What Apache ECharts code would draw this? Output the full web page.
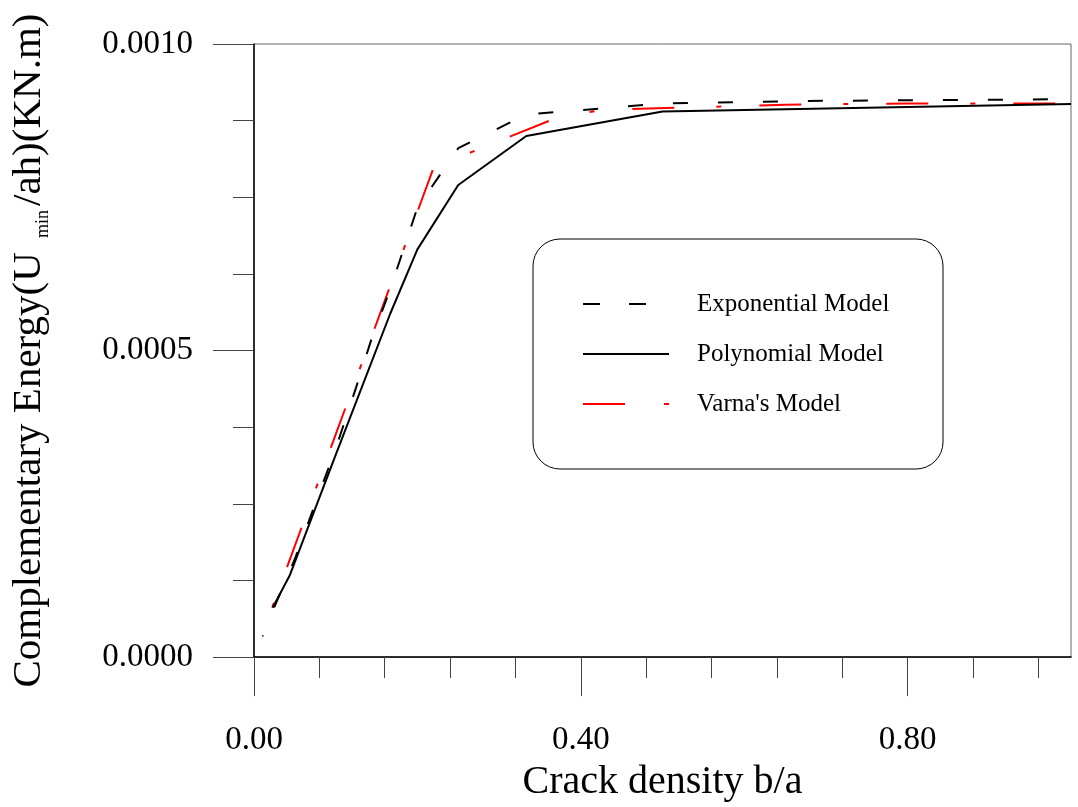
<!DOCTYPE html>
<html>
<head>
<meta charset="utf-8">
<script src="https://cdn.jsdelivr.net/npm/echarts@6/dist/echarts.min.js"></script>
<style>
  html, body { margin: 0; padding: 0; background: #fff; }
  #chart { width: 1078px; height: 807px; }
</style>
</head>
<body>
<div id="chart"></div>
<script>
// values
const expX = [0.0106, 0.025, 0.05, 0.1, 0.125, 0.1429, 0.1667, 0.2, 0.25, 0.3333, 0.5, 0.6667, 1.0];
const expY = [0.000034, 0.000082, 0.00016, 0.00034, 0.00044, 0.000515, 0.0006, 0.000733, 0.00083, 0.000885, 0.000903, 0.000907, 0.00091];

const polyX = [0.023, 0.044, 0.1, 0.1667, 0.2, 0.25, 0.3333, 0.5, 1.0];
const polyY = [0.000081, 0.000134, 0.00033, 0.00056, 0.000665, 0.00077, 0.00085, 0.00089, 0.000902];

const varX = [0.0223, 0.22, 0.375, 0.43, 0.55, 0.65, 0.8, 1.0];
const varY = [0.0000808, 0.000799, 0.000882, 0.000893, 0.000897, 0.000901, 0.000903, 0.000903];

const seriesNames = ["Exponential Model", "Polynomial Model", "Varna's Model"];

const xMajorTicks = [0, 0.4, 0.8];
const xMinorTicks = [0.08, 0.16, 0.24, 0.32, 0.48, 0.56, 0.64, 0.72, 0.88, 0.96];

const zip = (xs, ys) => xs.map((x, i) => [x, ys[i]]);

const FONT = '"Liberation Serif", "Times New Roman", serif';

// line looks, shared by the plot and the legend box
const styles = [
  { color: "#000", width: 2, type: [15, 30], dashOffset: 14 },
  { color: "#000", width: 2, type: "solid" },
  { color: "#ff0000", width: 2, type: [5, 38, 42, 42] }
];
const legendDash = [[17, 29], null, [42, 39, 5, 40]];

const chart = echarts.init(document.getElementById("chart"), null, { renderer: "canvas" });

const legendItems = [];
seriesNames.forEach((name, i) => {
  const y = 304 + i * 50;
  legendItems.push({
    type: "line",
    shape: { x1: 583, y1: y, x2: 669, y2: y },
    style: { stroke: styles[i].color, lineWidth: 2, lineDash: legendDash[i] }
  });
  legendItems.push({
    type: "text",
    x: 697,
    y: y,
    style: { text: name, font: "25px " + FONT, fill: "#000", verticalAlign: "middle" }
  });
});

chart.setOption({
  backgroundColor: "#fff",
  animation: false,
  textStyle: { fontFamily: FONT, color: "#000" },
  grid: {
    left: 254,
    right: 7,
    top: 44,
    bottom: 148,
    show: true,
    borderColor: "#666",
    borderWidth: 1
  },
  xAxis: [
    {
      type: "value",
      min: 0,
      max: 1.0,
      interval: 0.4,
      name: "Crack density b/a",
      nameLocation: "middle",
      nameGap: 88,
      nameTextStyle: { fontSize: 40, fontFamily: FONT, color: "#000" },
      axisLine: { show: true, onZero: false, lineStyle: { color: "#000", width: 1.5 } },
      axisTick: { show: true, customValues: xMajorTicks, length: 39, lineStyle: { color: "#444", width: 1 } },
      axisLabel: {
        customValues: xMajorTicks,
        margin: 67,
        fontSize: 33,
        color: "#000",
        fontFamily: FONT,
        formatter: (v) => v.toFixed(2)
      },
      splitLine: { show: false }
    },
    {
      type: "value",
      min: 0,
      max: 1.0,
      position: "bottom",
      axisLine: { show: false },
      axisTick: { show: true, customValues: xMinorTicks, length: 21, lineStyle: { color: "#444", width: 1 } },
      axisLabel: { show: false },
      splitLine: { show: false }
    }
  ],
  yAxis: {
    type: "value",
    min: 0,
    max: 0.001,
    interval: 0.0005,
    name: "{a|Complementary Energy(U }{sub|min}{a|/ah)(KN.m)}",
    nameLocation: "middle",
    nameGap: 202,
    nameTextStyle: {
      fontFamily: FONT,
      rich: {
        a: { fontSize: 41, lineHeight: 46, fontFamily: FONT, color: "#000", verticalAlign: "middle" },
        sub: { fontSize: 18, lineHeight: 18, fontFamily: FONT, color: "#000", verticalAlign: "bottom", padding: [0, 4, 0, 4] }
      }
    },
    axisLine: { show: true, onZero: false, lineStyle: { color: "#000", width: 1.5 } },
    axisTick: { show: true, length: 41, lineStyle: { color: "#444", width: 1 } },
    minorTick: { show: true, splitNumber: 4, length: 21, lineStyle: { color: "#444", width: 1 } },
    axisLabel: {
      margin: 61,
      fontSize: 33,
      color: "#000",
      fontFamily: FONT,
      formatter: (v) => v.toFixed(4)
    },
    splitLine: { show: false },
    minorSplitLine: { show: false }
  },
  series: [
    { name: seriesNames[0], data: zip(expX, expY) },
    { name: seriesNames[1], data: zip(polyX, polyY) },
    { name: seriesNames[2], data: zip(varX, varY) }
  ].map((s, i) => ({
    name: s.name,
    type: "line",
    data: s.data,
    symbol: "none",
    showSymbol: false,
    smooth: false,
    lineStyle: styles[i],
    itemStyle: { color: styles[i].color },
    z: 3 - i
  })),
  graphic: [
    {
      type: "rect",
      shape: { x: 533, y: 239, width: 410, height: 230, r: 27 },
      style: { fill: "#fff", stroke: "#000", lineWidth: 1 },
      z: 10
    },
    ...legendItems.map((g) => Object.assign(g, { z: 11 }))
  ]
});
</script>
</body>
</html>
